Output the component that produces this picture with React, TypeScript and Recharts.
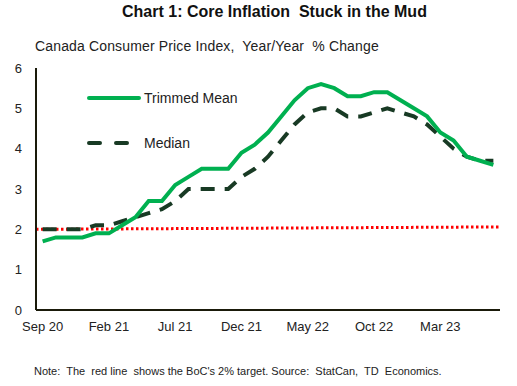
import { LineChart, Line, XAxis, YAxis, ReferenceLine } from "recharts";

const months = [
  "Sep 20", "Oct 20", "Nov 20", "Dec 20", "Jan 21", "Feb 21", "Mar 21", "Apr 21", "May 21", "Jun 21",
  "Jul 21", "Aug 21", "Sep 21", "Oct 21", "Nov 21", "Dec 21", "Jan 22", "Feb 22", "Mar 22", "Apr 22",
  "May 22", "Jun 22", "Jul 22", "Aug 22", "Sep 22", "Oct 22", "Nov 22", "Dec 22", "Jan 23", "Feb 23",
  "Mar 23", "Apr 23", "May 23", "Jun 23", "Jul 23",
];
const trimmedMean = [
  1.7, 1.8, 1.8, 1.8, 1.9, 1.9, 2.1, 2.3, 2.7, 2.7,
  3.1, 3.3, 3.5, 3.5, 3.5, 3.9, 4.1, 4.4, 4.8, 5.2,
  5.5, 5.6, 5.5, 5.3, 5.3, 5.4, 5.4, 5.2, 5.0, 4.8,
  4.4, 4.2, 3.8, 3.7, 3.6,
];
const median = [
  2.0, 2.0, 2.0, 2.0, 2.1, 2.1, 2.2, 2.3, 2.4, 2.5,
  2.7, 3.0, 3.0, 3.0, 3.0, 3.3, 3.5, 3.8, 4.2, 4.6,
  4.9, 5.0, 5.0, 4.8, 4.8, 4.9, 5.0, 4.9, 4.8, 4.6,
  4.3, 4.0, 3.8, 3.7, 3.7,
];
const xTickLabels = ["Sep 20", "Feb 21", "Jul 21", "Dec 21", "May 22", "Oct 22", "Mar 23"];
const yTicks = [0, 1, 2, 3, 4, 5, 6];
const targetStart = 2.0;
const targetEnd = 2.06;

const data = months.map((m, i) => ({ i, m, trim: trimmedMean[i], median: median[i] }));
const xTicks = xTickLabels.map((l) => months.indexOf(l));
const xMin = -0.5;
const xMax = months.length - 0.5;

const GREEN = "#00B050";
const DARK = "#183A24";
const FONT = "'Liberation Sans', Arial, sans-serif";

export default function App() {
  return (
    <div style={{ position: "absolute", left: 0, top: 0, width: 517, height: 386, background: "#fff", fontFamily: FONT }}>
      <div style={{ position: "absolute", left: 122, top: 3, fontWeight: "bold", fontSize: 16, color: "#111", whiteSpace: "nowrap" }}>
        Chart 1: Core Inflation&nbsp; Stuck in the Mud
      </div>
      <div style={{ position: "absolute", left: 35, top: 38, fontSize: 14, color: "#222", whiteSpace: "nowrap", letterSpacing: 0.15 }}>
        Canada Consumer Price Index,&nbsp; Year/Year&nbsp; % Change
      </div>
      <LineChart width={517} height={386} data={data} margin={{ top: 68, right: 17, bottom: 46, left: 0 }}>
        <XAxis
          dataKey="i"
          type="number"
          domain={[xMin, xMax]}
          ticks={xTicks}
          tickFormatter={(v) => months[v]}
          interval={0}
          tickLine={false}
          tickMargin={6}
          axisLine={{ stroke: "#1A1A0A", strokeWidth: 2 }}
          tick={{ fill: "#222", fontSize: 13, fontFamily: FONT }}
          allowDataOverflow
        />
        <YAxis
          width={36}
          domain={[0, 6]}
          ticks={yTicks}
          tickLine={false}
          tickMargin={8}
          axisLine={{ stroke: "#1A1A0A", strokeWidth: 2 }}
          tick={{ fill: "#222", fontSize: 13, fontFamily: FONT }}
        />
        <ReferenceLine
          segment={[{ x: xMin, y: targetStart }, { x: xMax, y: targetEnd }]}
          stroke="#FF0000"
          strokeWidth={3}
          strokeDasharray="2.5 2.5"
          ifOverflow="visible"
        />
        <Line
          dataKey="median"
          stroke={DARK}
          strokeWidth={4}
          strokeDasharray="14 10"
          dot={false}
          isAnimationActive={false}
        />
        <Line
          dataKey="trim"
          stroke={GREEN}
          strokeWidth={4}
          dot={false}
          isAnimationActive={false}
        />
      </LineChart>
      <svg width={170} height={70} style={{ position: "absolute", left: 84, top: 90, overflow: "visible" }}>
        <line x1={5} y1={8} x2={55} y2={8} stroke={GREEN} strokeWidth={4} strokeLinecap="round" />
        <text x={60} y={13} fontSize={14} fill="#222" fontFamily={FONT}>Trimmed Mean</text>
        <line x1={5} y1={53} x2={55} y2={53} stroke={DARK} strokeWidth={4} strokeDasharray="11 16" strokeLinecap="round" />
        <text x={60} y={58} fontSize={14} fill="#222" fontFamily={FONT}>Median</text>
      </svg>
      <div style={{ position: "absolute", left: 34, top: 365, fontSize: 11, color: "#222", whiteSpace: "nowrap" }}>
        Note:&nbsp; The&nbsp; red line&nbsp; shows the BoC's 2% target. Source:&nbsp; StatCan,&nbsp; TD&nbsp; Economics.
      </div>
    </div>
  );
}
